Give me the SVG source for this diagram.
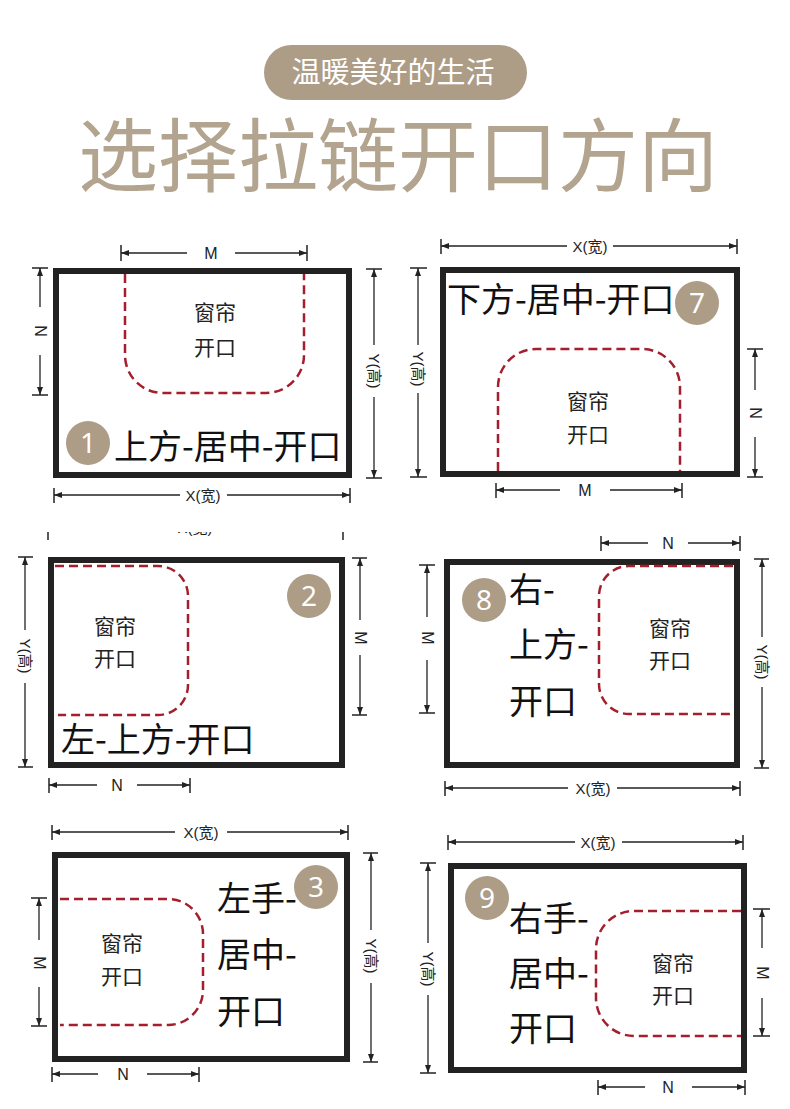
<svg xmlns="http://www.w3.org/2000/svg" width="790" height="1109" viewBox="0 0 790 1109">
<defs>
<style>
.frame{fill:#fff;stroke:#222;stroke-width:6}
.dash{fill:none;stroke:#a31f2e;stroke-width:2.5;stroke-dasharray:9 5}
.dl{fill:none;stroke:#222;stroke-width:1.3;marker-end:url(#arr)}
.tick{stroke:#222;stroke-width:1.5}
.dt{font-family:"Liberation Sans","Noto Sans CJK SC",sans-serif;font-size:15px;fill:#222;text-anchor:middle;dominant-baseline:central}
.dm{font-size:16px}
.cap{font-family:"Noto Sans CJK SC",sans-serif;font-size:21px;fill:#222;text-anchor:middle}
.lab{font-family:"Noto Sans CJK SC",sans-serif;font-size:34px;fill:#111}
.badge{fill:#ad9c86}
.num{font-family:"Noto Sans","Open Sans",sans-serif;font-size:28px;fill:#fff;text-anchor:middle}
</style>
<marker id="arr" markerWidth="8" markerHeight="6" refX="8" refY="3" orient="auto" markerUnits="userSpaceOnUse">
<path d="M0,0 L8,3 L0,6 z" fill="#222"/>
</marker>
<clipPath id="cut"><rect x="30" y="532" width="340" height="12"/></clipPath>
</defs>
<rect width="790" height="1109" fill="#fff"/>

<g id="header">
<rect x="264" y="45" width="263" height="55" rx="27.5" fill="#ad9c86"/>
<text x="393" y="83" font-family="Noto Sans CJK SC,sans-serif" font-size="29" fill="#fff" text-anchor="middle">温暖美好的生活</text>
<text x="398" y="185" font-family="Noto Sans CJK SC,sans-serif" font-size="80" fill="#b2a48e" text-anchor="middle">选择拉链开口方向</text>
</g>

<!-- Panel 1 -->
<g id="p1">
<rect class="frame" x="56" y="271" width="293" height="204"/>
<path class="dash" d="M125,274 V355 A38,38 0 0 0 163,393 H266 A38,38 0 0 0 304,355 V274"/>
<text class="cap" x="215" y="320">窗帘</text>
<text class="cap" x="215" y="355">开口</text>
<circle class="badge" cx="88" cy="443" r="22"/>
<text class="num" x="88" y="453">1</text>
<text class="lab" x="114" y="459">上方-居中-开口</text>
</g>

<!-- Panel 7 -->
<g id="p7">
<rect class="frame" x="443" y="270" width="294" height="204"/>
<path class="dash" d="M498,471 V387 A38,38 0 0 1 536,349 H642 A38,38 0 0 1 680,387 V471"/>
<text class="cap" x="588" y="409">窗帘</text>
<text class="cap" x="588" y="442">开口</text>
<text class="lab" x="447" y="312">下方-居中-开口</text>
<circle class="badge" cx="697" cy="303" r="22"/>
<text class="num" x="697" y="313">7</text>
</g>

<!-- Panel 2 -->
<g id="p2">
<rect class="frame" x="51" y="560" width="291" height="205"/>
<path class="dash" d="M55,566 H158 A30,30 0 0 1 188,596 V685 A30,30 0 0 1 158,715 H58"/>
<text class="cap" x="115" y="634">窗帘</text>
<text class="cap" x="115" y="666">开口</text>
<circle class="badge" cx="309" cy="596" r="22"/>
<text class="num" x="309" y="606">2</text>
<text class="lab" x="61" y="752">左-上方-开口</text>
</g>

<!-- Panel 8 -->
<g id="p8">
<rect class="frame" x="447" y="562" width="290" height="203"/>
<path class="dash" d="M733,566 H629 A30,30 0 0 0 599,596 V684 A30,30 0 0 0 629,714 H730"/>
<text class="cap" x="670" y="636">窗帘</text>
<text class="cap" x="670" y="668">开口</text>
<circle class="badge" cx="484" cy="600" r="22"/>
<text class="num" x="484" y="610">8</text>
<text class="lab" x="509" y="602">右-</text>
<text class="lab" x="509" y="657">上方-</text>
<text class="lab" x="509" y="714">开口</text>
</g>

<!-- Panel 3 -->
<g id="p3">
<rect class="frame" x="55" y="855" width="292" height="204"/>
<path class="dash" d="M60,899 H168 A35,35 0 0 1 203,934 V990 A35,35 0 0 1 168,1025 H60"/>
<text class="cap" x="122" y="951">窗帘</text>
<text class="cap" x="122" y="984">开口</text>
<text class="lab" x="217" y="911">左手-</text>
<text class="lab" x="217" y="967">居中-</text>
<text class="lab" x="217" y="1024">开口</text>
<circle class="badge" cx="316" cy="887" r="22"/>
<text class="num" x="316" y="897">3</text>
</g>

<!-- Panel 9 -->
<g id="p9">
<rect class="frame" x="451" y="866" width="293" height="204"/>
<path class="dash" d="M741,911 H634 A38,38 0 0 0 596,949 V998 A38,38 0 0 0 634,1036 H741"/>
<text class="cap" x="673" y="971">窗帘</text>
<text class="cap" x="673" y="1003">开口</text>
<circle class="badge" cx="487" cy="898" r="22"/>
<text class="num" x="487" y="908">9</text>
<text class="lab" x="509" y="931">右手-</text>
<text class="lab" x="509" y="986">居中-</text>
<text class="lab" x="509" y="1041">开口</text>
</g>

<g id="connectors">
<!-- P1 M -->
<line class="tick" x1="121" y1="245" x2="121" y2="261"/><line class="tick" x1="307" y1="245" x2="307" y2="261"/>
<path class="dl" d="M187,253 H121"/><path class="dl" d="M235,253 H307"/>
<text class="dt dm" x="211" y="253">M</text>
<!-- P1 N -->
<line class="tick" x1="32" y1="268" x2="48" y2="268"/><line class="tick" x1="32" y1="395" x2="48" y2="395"/>
<path class="dl" d="M40,307 V268"/><path class="dl" d="M40,355 V395"/>
<text class="dt dm" transform="translate(40,331) rotate(90)">N</text>
<!-- P1 Y -->
<line class="tick" x1="366" y1="269" x2="382" y2="269"/><line class="tick" x1="366" y1="478" x2="382" y2="478"/>
<path class="dl" d="M374,345 V269"/><path class="dl" d="M374,397 V478"/>
<text class="dt" transform="translate(374,371) rotate(90)">Y(高)</text>
<!-- P1 X -->
<line class="tick" x1="54" y1="488" x2="54" y2="503"/><line class="tick" x1="350" y1="488" x2="350" y2="503"/>
<path class="dl" d="M180,495 H54"/><path class="dl" d="M227,495 H350"/>
<text class="dt" x="203" y="495">X(宽)</text>

<!-- P7 X -->
<line class="tick" x1="441" y1="239" x2="441" y2="254"/><line class="tick" x1="737" y1="239" x2="737" y2="254"/>
<path class="dl" d="M567,246 H441"/><path class="dl" d="M613,246 H737"/>
<text class="dt" x="590" y="246">X(宽)</text>
<!-- P7 Y -->
<line class="tick" x1="410" y1="268" x2="427" y2="268"/><line class="tick" x1="410" y1="477" x2="427" y2="477"/>
<path class="dl" d="M418,345 V268"/><path class="dl" d="M418,393 V477"/>
<text class="dt" transform="translate(418,369) rotate(90)">Y(高)</text>
<!-- P7 N -->
<line class="tick" x1="747" y1="349" x2="763" y2="349"/><line class="tick" x1="747" y1="477" x2="763" y2="477"/>
<path class="dl" d="M755,390 V349"/><path class="dl" d="M755,437 V477"/>
<text class="dt dm" transform="translate(755,413) rotate(90)">N</text>
<!-- P7 M -->
<line class="tick" x1="496" y1="483" x2="496" y2="498"/><line class="tick" x1="682" y1="483" x2="682" y2="498"/>
<path class="dl" d="M560,490 H496"/><path class="dl" d="M610,490 H682"/>
<text class="dt dm" x="585" y="490">M</text>

<!-- P2 partial top X -->
<g clip-path="url(#cut)">
<line class="tick" x1="48" y1="521" x2="48" y2="540"/><line class="tick" x1="343" y1="521" x2="343" y2="540"/>
<text x="195" y="533" font-family="Liberation Sans,Noto Sans CJK SC,sans-serif" font-size="15" fill="#222" text-anchor="middle">X(宽)</text>
</g>
<!-- P2 Y -->
<line class="tick" x1="18" y1="557" x2="33" y2="557"/><line class="tick" x1="18" y1="767" x2="33" y2="767"/>
<path class="dl" d="M25,630 V557"/><path class="dl" d="M25,683 V767"/>
<text class="dt" transform="translate(25,656) rotate(90)">Y(高)</text>
<!-- P2 M -->
<line class="tick" x1="352" y1="558" x2="367" y2="558"/><line class="tick" x1="352" y1="715" x2="367" y2="715"/>
<path class="dl" d="M360,620 V558"/><path class="dl" d="M360,655 V715"/>
<text class="dt dm" transform="translate(360,638) rotate(90)">M</text>
<!-- P2 N -->
<line class="tick" x1="49" y1="778" x2="49" y2="793"/><line class="tick" x1="190" y1="778" x2="190" y2="793"/>
<path class="dl" d="M97,785 H49"/><path class="dl" d="M137,785 H190"/>
<text class="dt dm" x="117" y="785">N</text>

<!-- P8 N -->
<line class="tick" x1="601" y1="536" x2="601" y2="551"/><line class="tick" x1="740" y1="536" x2="740" y2="551"/>
<path class="dl" d="M648,543 H601"/><path class="dl" d="M688,543 H740"/>
<text class="dt dm" x="668" y="543">N</text>
<!-- P8 M -->
<line class="tick" x1="419" y1="565" x2="435" y2="565"/><line class="tick" x1="419" y1="713" x2="435" y2="713"/>
<path class="dl" d="M427,617 V565"/><path class="dl" d="M427,660 V713"/>
<text class="dt dm" transform="translate(427,638) rotate(90)">M</text>
<!-- P8 Y -->
<line class="tick" x1="754" y1="559" x2="769" y2="559"/><line class="tick" x1="754" y1="768" x2="769" y2="768"/>
<path class="dl" d="M762,637 V559"/><path class="dl" d="M762,687 V768"/>
<text class="dt" transform="translate(762,662) rotate(90)">Y(高)</text>
<!-- P8 X -->
<line class="tick" x1="445" y1="781" x2="445" y2="796"/><line class="tick" x1="740" y1="781" x2="740" y2="796"/>
<path class="dl" d="M568,788 H445"/><path class="dl" d="M617,788 H740"/>
<text class="dt" x="593" y="788">X(宽)</text>

<!-- P3 X -->
<line class="tick" x1="52" y1="825" x2="52" y2="840"/><line class="tick" x1="348" y1="825" x2="348" y2="840"/>
<path class="dl" d="M175,832 H52"/><path class="dl" d="M227,832 H348"/>
<text class="dt" x="201" y="832">X(宽)</text>
<!-- P3 M -->
<line class="tick" x1="31" y1="898" x2="47" y2="898"/><line class="tick" x1="31" y1="1026" x2="47" y2="1026"/>
<path class="dl" d="M39,940 V898"/><path class="dl" d="M39,987 V1026"/>
<text class="dt dm" transform="translate(39,963) rotate(90)">M</text>
<!-- P3 Y -->
<line class="tick" x1="363" y1="853" x2="378" y2="853"/><line class="tick" x1="363" y1="1062" x2="378" y2="1062"/>
<path class="dl" d="M371,930 V853"/><path class="dl" d="M371,983 V1062"/>
<text class="dt" transform="translate(371,956) rotate(90)">Y(高)</text>
<!-- P3 N -->
<line class="tick" x1="52" y1="1067" x2="52" y2="1082"/><line class="tick" x1="199" y1="1067" x2="199" y2="1082"/>
<path class="dl" d="M98,1074 H52"/><path class="dl" d="M147,1074 H199"/>
<text class="dt dm" x="123" y="1074">N</text>

<!-- P9 X -->
<line class="tick" x1="448" y1="835" x2="448" y2="850"/><line class="tick" x1="743" y1="835" x2="743" y2="850"/>
<path class="dl" d="M575,842 H448"/><path class="dl" d="M622,842 H743"/>
<text class="dt" x="598" y="842">X(宽)</text>
<!-- P9 Y -->
<line class="tick" x1="420" y1="863" x2="436" y2="863"/><line class="tick" x1="420" y1="1073" x2="436" y2="1073"/>
<path class="dl" d="M428,943 V863"/><path class="dl" d="M428,995 V1073"/>
<text class="dt" transform="translate(428,969) rotate(90)">Y(高)</text>
<!-- P9 M -->
<line class="tick" x1="753" y1="909" x2="770" y2="909"/><line class="tick" x1="753" y1="1036" x2="770" y2="1036"/>
<path class="dl" d="M762,948 V909"/><path class="dl" d="M762,998 V1036"/>
<text class="dt dm" transform="translate(762,973) rotate(90)">M</text>
<!-- P9 N -->
<line class="tick" x1="598" y1="1080" x2="598" y2="1095"/><line class="tick" x1="745" y1="1080" x2="745" y2="1095"/>
<path class="dl" d="M645,1087 H598"/><path class="dl" d="M692,1087 H745"/>
<text class="dt dm" x="668" y="1087">N</text>
</g>
</svg>
